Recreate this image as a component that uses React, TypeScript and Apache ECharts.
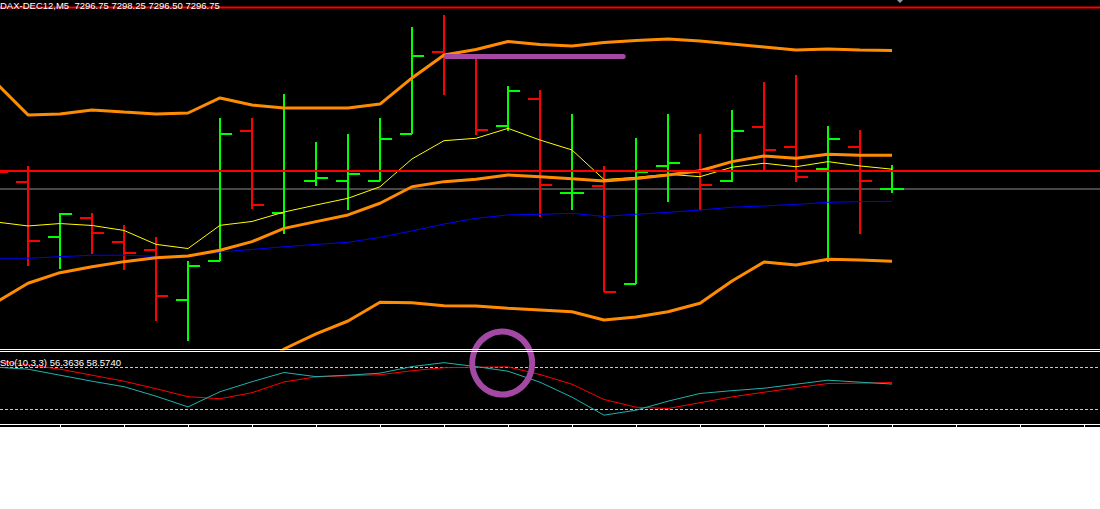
import React, { useEffect, useRef } from "react";
import * as echarts from "echarts";

// ---------- labels ----------
const SYMBOL_LABEL = "DAX-DEC12,M5  7296.75 7298.25 7296.50 7296.75";
const STOCH_LABEL = "Sto(10,3,3) 56.3636 58.5740";

// ---------- bars (M5), index -1 is the partly visible bar at the left edge ----------
const barIndex = [-1, 0, 1, 2, 3, 4, 5, 6, 7, 8, 9, 10, 11, 12, 13, 14, 15, 16, 17, 18, 19, 20, 21, 22, 23, 24, 25, 26, 27];
const opens = [7297.94, 7297.19, 7293.75, 7294.94, 7293.44, 7292.94, 7289.81, 7292.25, 7300.38, 7295.25, 7297.25, 7297.25, 7297.25, 7300.19, 7305.31, 7305.0, 7300.69, 7302.38, 7296.5, 7296.94, 7290.81, 7298.19, 7297.81, 7297.25, 7300.63, 7299.38, 7298.0, 7299.38, 7296.75];
const highs = [7298.25, 7298.19, 7295.25, 7295.25, 7294.5, 7293.75, 7292.25, 7301.19, 7301.19, 7302.69, 7299.69, 7300.19, 7301.19, 7306.88, 7307.63, 7305.13, 7303.19, 7302.94, 7301.44, 7298.19, 7299.94, 7301.44, 7300.19, 7301.69, 7303.44, 7303.88, 7300.69, 7300.44, 7298.25];
const lows = [7297.31, 7291.94, 7291.75, 7292.69, 7291.69, 7288.5, 7287.25, 7292.25, 7295.5, 7293.94, 7296.94, 7295.44, 7297.25, 7300.19, 7302.63, 7300.13, 7300.38, 7295.0, 7295.44, 7290.31, 7290.81, 7295.94, 7295.44, 7297.19, 7297.88, 7297.19, 7292.19, 7293.94, 7296.5];
const closes = [7297.81, 7293.5, 7295.19, 7294.0, 7292.75, 7290.06, 7291.94, 7300.19, 7295.75, 7301.81, 7297.44, 7297.69, 7299.88, 7305.06, 7304.94, 7300.44, 7302.88, 7297.0, 7296.5, 7290.31, 7297.81, 7298.38, 7297.0, 7300.38, 7299.19, 7297.5, 7299.88, 7297.25, 7296.75];

// ---------- indicators ----------
const bbUpper = [7303.38, 7301.38, 7301.44, 7301.69, 7301.56, 7301.44, 7301.5, 7302.44, 7302.0, 7301.81, 7301.81, 7301.81, 7302.06, 7303.69, 7305.13, 7305.47, 7305.97, 7305.78, 7305.69, 7305.91, 7306.03, 7306.13, 7306.0, 7305.81, 7305.63, 7305.44, 7305.5, 7305.44, 7305.41];
const bbMiddle = [7289.66, 7290.86, 7291.52, 7291.89, 7292.21, 7292.46, 7292.56, 7292.92, 7293.46, 7294.29, 7294.71, 7295.13, 7295.86, 7296.89, 7297.21, 7297.36, 7297.63, 7297.52, 7297.39, 7297.25, 7297.41, 7297.63, 7297.89, 7298.46, 7298.81, 7298.67, 7298.92, 7298.86, 7298.86];
const bbLower = [7275.94, 7280.31, 7281.63, 7282.13, 7282.88, 7283.5, 7283.63, 7283.44, 7284.94, 7286.75, 7287.69, 7288.5, 7289.67, 7289.64, 7289.46, 7289.44, 7289.29, 7289.19, 7289.08, 7288.56, 7288.75, 7289.08, 7289.61, 7291.0, 7292.19, 7292.0, 7292.36, 7292.31, 7292.23];
const maFast = [7294.69, 7294.44, 7294.59, 7294.47, 7294.16, 7293.29, 7293.03, 7294.48, 7294.72, 7295.31, 7295.75, 7296.17, 7296.89, 7298.63, 7299.77, 7299.92, 7300.54, 7299.81, 7299.19, 7297.34, 7297.48, 7297.67, 7297.52, 7298.11, 7298.36, 7298.14, 7298.46, 7298.19, 7297.99];
const maSlow = [7292.42, 7292.42, 7292.52, 7292.61, 7292.61, 7292.54, 7292.56, 7292.81, 7292.97, 7293.14, 7293.29, 7293.42, 7293.73, 7294.13, 7294.56, 7294.92, 7295.13, 7295.17, 7295.23, 7295.04, 7295.17, 7295.29, 7295.44, 7295.61, 7295.69, 7295.79, 7295.92, 7295.96, 7295.98];

const stochMain = [80.5, 77.6, 69, 60.4, 52.6, 39, 23.7, 45.4, 59.7, 72.9, 66.9, 69, 71.9, 81.3, 86.9, 81.3, 74.7, 59, 37.6, 11.9, 19, 31.9, 42.9, 46.9, 50.4, 56.1, 61.9, 59, 56.3636];
const stochSignal = [88.7, 84, 77.6, 69, 60.4, 49.7, 38.3, 35.4, 44, 59.4, 66.6, 68.3, 69.7, 75.4, 79.7, 80.4, 80.9, 70, 56.1, 34.3, 23.3, 21.4, 29.7, 38, 44.7, 51.1, 57.1, 57.6, 58.574];
const stochLevels = [20, 80];

// ---------- objects ----------
const redLevels = [7308.09, 7297.875];
const bidPrice = 7296.75;
const trendBars = [13.08, 18.6];
const trendPrice = 7305.03;
const circleMark = [14.82, 86.4];

// ---------- layout ----------
const W = 1100;
const H = 427;
const X_MIN = -0.875;
const X_MAX = 33.5;
const BULL = "#00FF00";
const BEAR = "#FF0000";
const ORANGE = "#FF8C00";
const PURPLE = "#A349A4";
const FONT = '"Liberation Sans", Arial, sans-serif';

const pts = (arr: number[]) => barIndex.map((i, k) => [i, arr[k]]);
const hline = (v: number) => [[X_MIN, v], [X_MAX, v]];

export default function App() {
  const ref = useRef<HTMLDivElement>(null);
  useEffect(() => {
    if (!ref.current) return;
    const chart = echarts.init(ref.current, null, { renderer: "svg" });

    const ohlc = barIndex.map((i, k) => [i, opens[k], highs[k], lows[k], closes[k]]);

    const lineSeries = (name: string, data: any, color: string, width: number, z: number, grid = 0, extra: any = {}) => ({
      name,
      type: "line",
      xAxisIndex: grid,
      yAxisIndex: grid,
      data,
      symbol: "none",
      silent: true,
      z,
      lineStyle: { color, width, ...extra },
    });

    const ticks: any[] = [];
    for (let x = 60; x < W; x += 64) {
      ticks.push({ type: "line", z: 100, shape: { x1: x + 0.5, y1: 424, x2: x + 0.5, y2: 427 }, style: { stroke: "#fff", lineWidth: 1 } });
    }

    chart.setOption({
      animation: false,
      backgroundColor: "#000",
      grid: [
        { left: 0, top: 0, width: W, height: 349 },
        { left: 0, top: 353.5, width: W, height: 70 },
      ],
      xAxis: [
        { type: "value", gridIndex: 0, min: X_MIN, max: X_MAX, show: false },
        { type: "value", gridIndex: 1, min: X_MIN, max: X_MAX, show: false },
      ],
      yAxis: [
        { type: "value", gridIndex: 0, min: 7286.75, max: 7308.5625, show: false },
        { type: "value", gridIndex: 1, min: 0, max: 100, show: false },
      ],
      series: [
        lineSeries("bid", hline(bidPrice), "#909090", 1, 1),
        {
          name: "bars",
          type: "custom",
          xAxisIndex: 0,
          yAxisIndex: 0,
          z: 2,
          silent: true,
          data: ohlc,
          encode: { x: 0, y: [1, 2, 3, 4] },
          renderItem: (_p: any, api: any) => {
            const i = api.value(0);
            const o = api.value(1);
            const h = api.value(2);
            const l = api.value(3);
            const c = api.value(4);
            const pt = api.coord([i, h]);
            const pb = api.coord([i, l]);
            const po = api.coord([i, o]);
            const pc = api.coord([i, c]);
            const x = Math.round(pt[0]);
            const style = { stroke: c >= o ? BULL : BEAR, lineWidth: 2 };
            return {
              type: "group",
              children: [
                { type: "line", shape: { x1: x, y1: Math.round(pt[1]), x2: x, y2: Math.round(pb[1]) }, style },
                { type: "line", shape: { x1: x - 12, y1: Math.round(po[1]), x2: x, y2: Math.round(po[1]) }, style },
                { type: "line", shape: { x1: x, y1: Math.round(pc[1]), x2: x + 12, y2: Math.round(pc[1]) }, style },
              ],
            };
          },
        },
        lineSeries("maSlow", pts(maSlow), "#0000FF", 1, 3),
        lineSeries("maFast", pts(maFast), "#FFFF00", 1, 3),
        lineSeries("bbUpper", pts(bbUpper), ORANGE, 3, 4),
        lineSeries("bbMiddle", pts(bbMiddle), ORANGE, 3, 4),
        lineSeries("bbLower", pts(bbLower), ORANGE, 3, 4),
        ...redLevels.map((v, k) => lineSeries("red" + k, hline(v), "#FF0000", 2, 5)),
        lineSeries("trend", trendBars.map((b) => [b, trendPrice]), PURPLE, 5, 6, 0, { cap: "round" }),
        ...stochLevels.map((v) => lineSeries("lvl" + v, hline(v), "#C8C8C8", 1, 2, 1, { type: [3, 2] })),
        lineSeries("stochSignal", pts(stochSignal), "#FF0000", 1, 3, 1),
        lineSeries("stochMain", pts(stochMain), "#20B2AA", 1, 4, 1),
        {
          name: "circle",
          type: "scatter",
          xAxisIndex: 1,
          yAxisIndex: 1,
          clip: false,
          silent: true,
          z: 10,
          data: [circleMark],
          symbol: "circle",
          symbolSize: [60, 63],
          itemStyle: { color: "rgba(0,0,0,0)", borderColor: PURPLE, borderWidth: 6, opacity: 1 },
        },
      ],
      graphic: [
        { type: "line", z: 100, shape: { x1: 0, y1: 349.5, x2: W, y2: 349.5 }, style: { stroke: "#fff", lineWidth: 1 } },
        { type: "line", z: 100, shape: { x1: 0, y1: 351.5, x2: W, y2: 351.5 }, style: { stroke: "#fff", lineWidth: 1 } },
        { type: "line", z: 100, shape: { x1: 0, y1: 424.5, x2: W, y2: 424.5 }, style: { stroke: "#fff", lineWidth: 1 } },
        ...ticks,
        {
          type: "text",
          z: 100,
          x: 0,
          y: 0.5,
          style: { text: SYMBOL_LABEL, fill: "#fff", font: `9.5px ${FONT}`, verticalAlign: "top", textAlign: "left" },
        },
        {
          type: "text",
          z: 100,
          x: 0,
          y: 362,
          style: { text: STOCH_LABEL, fill: "#fff", font: `9.5px ${FONT}`, verticalAlign: "middle", textAlign: "left" },
        },
        { type: "polygon", z: 100, shape: { points: [[897, 0], [903, 0], [900, 3]] }, style: { fill: "#8C9CAC" } },
      ],
    });
    return () => chart.dispose();
  }, []);

  return (
    <div
      ref={ref}
      style={{ position: "fixed", left: 0, top: 0, width: W, height: H, background: "#000" }}
    />
  );
}
